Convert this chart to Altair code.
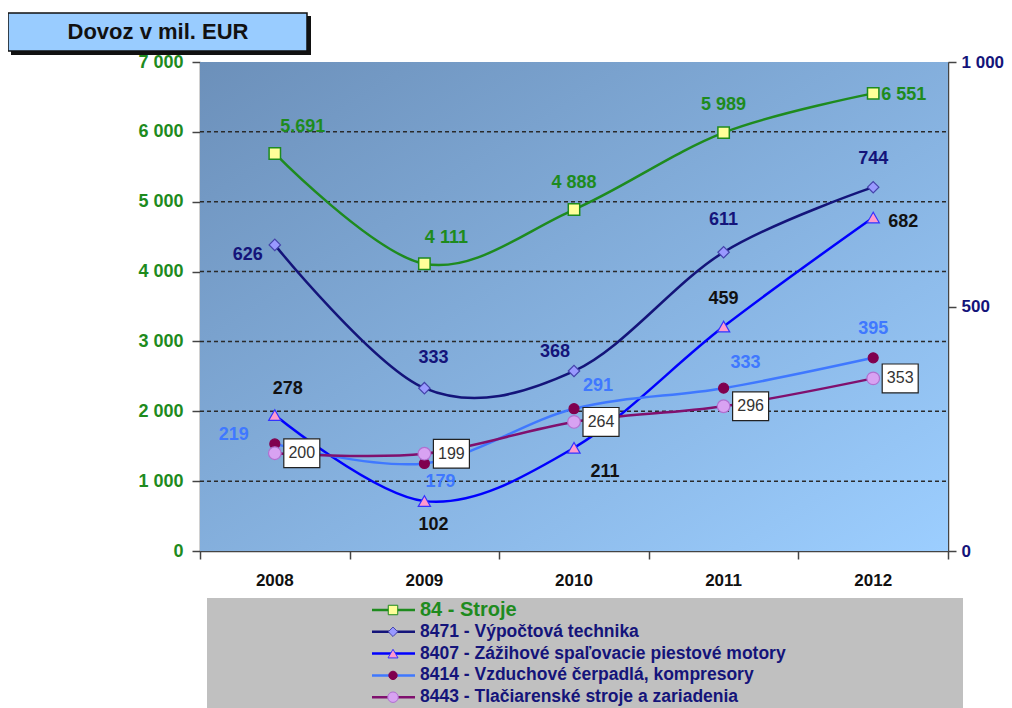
import altair as alt
import pandas as pd

# ---------------- data ----------------
years = [2008, 2009, 2010, 2011, 2012]
year_labels = ["2008", "2009", "2010", "2011", "2012"]
stroje = [5691, 4111, 4888, 5989, 6551]
stroje_text = ["5.691", "4 111", "4 888", "5 989", "6 551"]
vypoctova = [626, 333, 368, 611, 744]
zazihove = [278, 102, 211, 459, 682]
vzduchove = [219, 179, 291, 333, 395]
tlaciarenske = [200, 199, 264, 296, 353]
series_names = [
    "84 - Stroje",
    "8471 - Výpočtová technika",
    "8407 - Zážihové spaľovacie piestové motory",
    "8414 - Vzduchové čerpadlá, kompresory",
    "8443 - Tlačiarenské stroje a zariadenia",
]
left_ticks = [0, 1000, 2000, 3000, 4000, 5000, 6000, 7000]
grid_ticks = [1000, 2000, 3000, 4000, 5000, 6000]
right_ticks = [0, 500, 1000]
x_bounds = [2007.5, 2008.5, 2009.5, 2010.5, 2011.5, 2012.5]
title_text = "Dovoz v mil. EUR"

# ---------------- style ----------------
W, H = 748, 489
FONT = "Liberation Sans"
GREEN = "#1E8B1E"
NAVY = "#14147A"
BLUE = "#0000FF"
LBLUE = "#3F78FF"
PURPLE = "#80106E"
AXC = "#444444"

x_scale = alt.Scale(domain=[2007.5, 2012.5], nice=False, zero=False)
yl_scale = alt.Scale(domain=[0, 7000], nice=False, zero=True)
yr_scale = alt.Scale(domain=[0, 1000], nice=False, zero=True)
fmt_expr = "replace(format(datum.value, ','), ',', ' ')"

AX_X = alt.Axis(values=x_bounds, labels=False, grid=False, tickSize=8,
                tickColor=AXC, domainColor=AXC, domainWidth=1.5,
                tickWidth=1.5, title=None)
AX_L = alt.Axis(orient="left", values=left_ticks, labelExpr=fmt_expr,
                labelColor=GREEN, labelFont=FONT, labelFontSize=18,
                labelFontWeight="bold", tickSize=8, tickColor=AXC,
                tickWidth=1.5, domainColor=AXC, domainWidth=1.5,
                grid=False, title=None, labelPadding=9)
AX_R = alt.Axis(orient="right", values=right_ticks, labelExpr=fmt_expr,
                labelColor=NAVY, labelFont=FONT, labelFontSize=17,
                labelFontWeight="bold", tickSize=8, tickColor=AXC,
                tickWidth=1.5, domainColor=AXC, domainWidth=1.5,
                grid=False, title=None, labelPadding=5)

XE = alt.X("year:Q", scale=x_scale, axis=AX_X)
YL = alt.Y("v:Q", scale=yl_scale, axis=AX_L)
YR = alt.Y("v:Q", scale=yr_scale, axis=AX_R)

# label offsets (dx, dy, align) per point: styling only
lab_stroje = [(28, -26, "center"), (22, -26, "center"), (0, -27, "center"), (0, -28, "center"), (8, 2, "left")]
lab_8471 = [(-27, 10, "center"), (9, -30, "center"), (-19, -19, "center"), (0, -32, "center"), (0, -28, "center")]
lab_8407 = [(13, -26, "center"), (9, 24, "center"), (31, 24, "center"), (0, -28, "center"), (15, 4, "left")]
lab_8414 = [(-41, -9, "center"), (16, 19, "center"), (24, -23, "center"), (22, -25, "center"), (0, -29, "center")]


def df_for(vals, texts=None):
    return pd.DataFrame({"year": years, "v": vals,
                         "t": texts if texts else [str(v) for v in vals]})


one = pd.DataFrame({"k": [0]})


def labels(vals, offs, yenc, color, texts=None, size=18, weight="bold"):
    d = df_for(vals, texts)
    out = []
    for i, (dx, dy, al) in enumerate(offs):
        out.append(
            alt.Chart(d.iloc[[i]]).mark_text(
                dx=dx, dy=dy, align=al, baseline="middle", font=FONT,
                fontSize=size, fontWeight=weight, color=color
            ).encode(x=XE, y=yenc, text="t:N")
        )
    return out


# ---------------- left group ----------------
bg = alt.Chart(one).mark_rect(
    color=alt.Gradient(
        gradient="linear",
        stops=[alt.GradientStop(color="#6C90BA", offset=0),
               alt.GradientStop(color="#9CCEFF", offset=1)],
        x1=0, y1=0, x2=1, y2=1,
    )
).encode(x=alt.value(0), x2=alt.value(W), y=alt.value(0), y2=alt.value(H))

grid = alt.Chart(pd.DataFrame({"v": grid_ticks})).mark_rule(
    color="#2A2A2A", strokeDash=[4, 3], strokeWidth=1.5
).encode(y=YL, x=alt.value(0), x2=alt.value(W))

stroje_line = alt.Chart(df_for(stroje)).mark_line(
    color=GREEN, strokeWidth=2.5, interpolate="cardinal"
).encode(x=XE, y=YL)
stroje_pts = alt.Chart(df_for(stroje)).mark_point(
    shape="square", size=130, filled=True, fill="#FFFF99", stroke=GREEN,
    strokeWidth=1.5, opacity=1
).encode(x=XE, y=YL)

year_text = alt.Chart(pd.DataFrame({"year": years, "t": year_labels})).mark_text(
    font=FONT, fontSize=17, fontWeight="bold", color="#111111", baseline="middle"
).encode(x=XE, y=alt.value(H + 30), text="t:N")

left_group = alt.layer(
    bg, grid, stroje_line, stroje_pts,
    *labels(stroje, lab_stroje, YL, GREEN, texts=stroje_text),
    year_text,
)

# ---------------- right group ----------------
def rline(vals, color):
    return alt.Chart(df_for(vals)).mark_line(
        color=color, strokeWidth=2.5, interpolate="cardinal"
    ).encode(x=XE, y=YR)


def rpts(vals, shape, size, fill, stroke):
    return alt.Chart(df_for(vals)).mark_point(
        shape=shape, size=size, filled=True, fill=fill, stroke=stroke,
        strokeWidth=1.2, opacity=1
    ).encode(x=XE, y=YR)


box_shape = "M-1,-0.8 L1,-0.8 L1,0.8 L-1,0.8 Z"
boxes = alt.Chart(df_for(tlaciarenske)).mark_point(
    shape=box_shape, size=1296, filled=True, fill="white", stroke="#222222",
    strokeWidth=1.2, opacity=1, xOffset=27
).encode(x=XE, y=YR)
box_text = alt.Chart(df_for(tlaciarenske)).mark_text(
    dx=27, baseline="middle", font=FONT, fontSize=16, color="#333333"
).encode(x=XE, y=YR, text="t:N")

right_group = alt.layer(
    rline(vypoctova, NAVY),
    rline(zazihove, BLUE),
    rline(vzduchove, LBLUE),
    rline(tlaciarenske, PURPLE),
    rpts(vypoctova, "diamond", 130, "#9999FF", "#4444AA"),
    rpts(zazihove, "triangle-up", 150, "#FF99CC", "#3333FF"),
    rpts(vzduchove, "circle", 100, "#80004F", "#80004F"),
    rpts(tlaciarenske, "circle", 160, "#D8A2F2", "#B070D0"),
    *labels(vypoctova, lab_8471, YR, NAVY),
    *labels(zazihove, lab_8407, YR, "#111111"),
    *labels(vzduchove, lab_8414, YR, LBLUE),
    boxes, box_text,
)

# ---------------- title box ----------------
title_df = pd.DataFrame({"t": [title_text]})
tshadow = alt.Chart(one).mark_rect(color="#111111").encode(
    x=alt.value(-189), x2=alt.value(111), y=alt.value(-46), y2=alt.value(-7))
tbox = alt.Chart(one).mark_rect(color="#99CCFF", stroke="#111111", strokeWidth=1.5).encode(
    x=alt.value(-192), x2=alt.value(107), y=alt.value(-49), y2=alt.value(-11))
ttext = alt.Chart(title_df).mark_text(
    font=FONT, fontSize=22, fontWeight="bold", color="#111111", baseline="middle"
).encode(x=alt.value(-42), y=alt.value(-30), text="t:N")

# ---------------- legend ----------------
leg_bg = alt.Chart(one).mark_rect(color="#C0C0C0").encode(
    x=alt.value(7), x2=alt.value(763), y=alt.value(536), y2=alt.value(680))
leg_style = [
    (GREEN, "square", 90, "#FFFF99", GREEN, GREEN, 20),
    (NAVY, "diamond", 90, "#9999FF", "#4444AA", NAVY, 17.5),
    (BLUE, "triangle-up", 100, "#FF99CC", "#3333FF", NAVY, 17.5),
    (LBLUE, "circle", 70, "#80004F", "#80004F", NAVY, 17.5),
    (PURPLE, "circle", 110, "#D8A2F2", "#B070D0", NAVY, 17.5),
]
leg_layers = [leg_bg]
for i, name in enumerate(series_names):
    lc, shp, sz, fl, st, tc, fs = leg_style[i]
    yy = 548 + i * 21.8
    d = pd.DataFrame({"name": [name]})
    leg_layers.append(alt.Chart(d).mark_rule(color=lc, strokeWidth=2.5).encode(
        x=alt.value(172), x2=alt.value(215), y=alt.value(yy)))
    leg_layers.append(alt.Chart(d).mark_point(
        shape=shp, size=sz, filled=True, fill=fl, stroke=st, strokeWidth=1, opacity=1
    ).encode(x=alt.value(193), y=alt.value(yy)))
    leg_layers.append(alt.Chart(d).mark_text(
        align="left", baseline="middle", font=FONT, fontSize=fs, fontWeight="bold", color=tc
    ).encode(x=alt.value(220), y=alt.value(yy), text="name:N"))

chart = alt.layer(
    left_group, right_group, tshadow, tbox, ttext, *leg_layers
).resolve_scale(y="independent").properties(
    width=W, height=H,
    padding={"left": 192, "top": 54, "right": 56, "bottom": 160},
    autosize=alt.AutoSizeParams(type="none"),
    background="white",
).configure_view(stroke="#999999", strokeWidth=1)

chart.save("out.html", embed_options={"renderer": "svg", "actions": False})
